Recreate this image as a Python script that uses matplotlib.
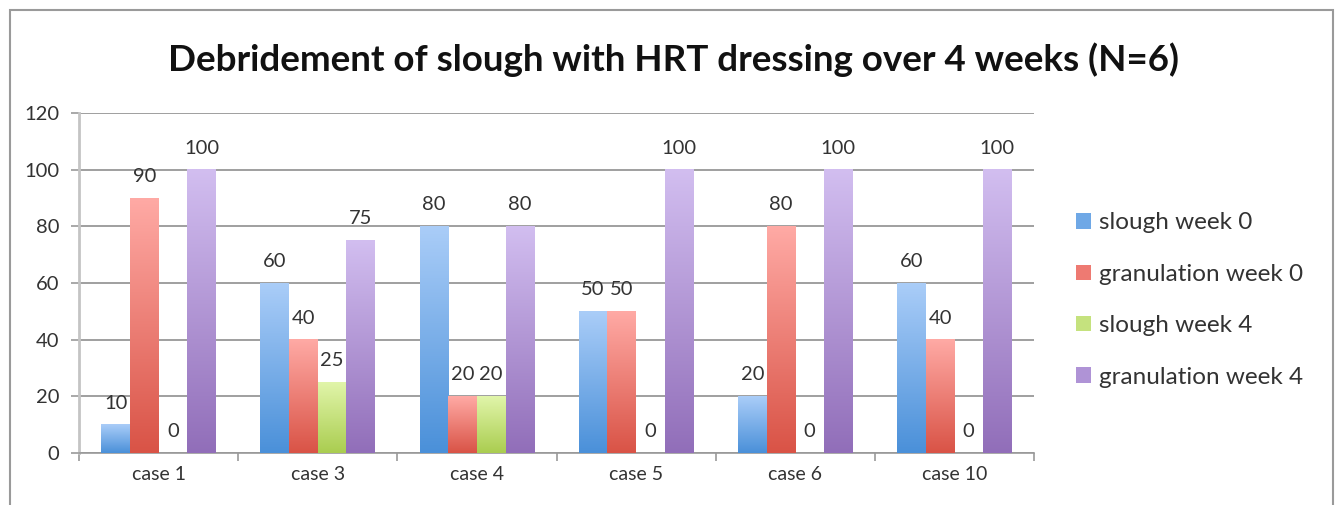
import numpy as np
import matplotlib
matplotlib.use("Agg")
import matplotlib.pyplot as plt
from matplotlib.colors import LinearSegmentedColormap
from matplotlib.patches import Rectangle

categories = ["case 1", "case 3", "case 4", "case 5", "case 6", "case 10"]
series_names = ["slough week 0", "granulation week 0", "slough week 4", "granulation week 4"]
slough_w0 = [10, 60, 80, 50, 20, 60]
gran_w0 = [90, 40, 20, 50, 80, 40]
slough_w4 = [0, 25, 20, 0, 0, 0]
gran_w4 = [100, 75, 80, 100, 100, 100]
yticks = [0, 20, 40, 60, 80, 100, 120]
title = "Debridement of slough with HRT dressing over 4 weeks (N=6)"

series = [slough_w0, gran_w0, slough_w4, gran_w4]
grad = [("#AACDF8", "#4A90D9"), ("#FFAAA5", "#D95346"),
        ("#E1F5AA", "#AACD50"), ("#D2BEF0", "#916EB9")]
legend_col = ["#6FA8E6", "#EE7A72", "#C5E27E", "#AF93D6"]

plt.rcParams['font.family'] = ['Lato', 'DejaVu Sans']

fig = plt.figure(figsize=(13.44, 5.05), dpi=100)
fig.patches.append(Rectangle((10/1344, -0.2), (1333-10)/1344, 1.2 - 10/505,
                             transform=fig.transFigure, fill=False,
                             edgecolor="#9a9a9a", linewidth=1.5))
ax = fig.add_axes([79/1344, 52/505, 955/1344, 340/505])

x = np.arange(len(categories))
w = 0.18
for i, vals in enumerate(series):
    offs = (i - 1.5) * w
    bars = ax.bar(x + offs, vals, width=w, color="none", edgecolor="none", zorder=3)
    cmap = LinearSegmentedColormap.from_list("g%d" % i, [grad[i][1], grad[i][0]])
    for b, v in zip(bars, vals):
        x0, y0 = b.get_x(), b.get_y()
        bw, bh = b.get_width(), b.get_height()
        if bh > 0:
            g = np.linspace(0, 1, 256).reshape(-1, 1)
            ax.imshow(g, cmap=cmap, origin="lower", aspect="auto",
                      extent=[x0, x0 + bw, y0, y0 + bh], zorder=3,
                      interpolation="bilinear")
        ax.text(x0 + bw / 2, v + 7.6, str(v), ha="center", va="center",
                fontsize=14.5, color="#333333", zorder=4)
    ax.bar([0], [0], color=legend_col[i], label=series_names[i])

ax.set_xlim(-0.5, len(categories) - 0.5)
ax.set_ylim(0, 120)
ax.set_yticks(yticks)
ax.set_yticklabels([str(t) for t in yticks], fontsize=14.5, color="#333333")
ax.set_xticks(x)
ax.set_xticklabels(categories, fontsize=14, color="#333333")
ax.set_xticks(np.arange(len(categories) + 1) - 0.5, minor=True)
ax.tick_params(axis="x", which="major", length=0, pad=9)
ax.tick_params(axis="x", which="minor", length=6, color="#999999", width=1.2)
ax.tick_params(axis="y", length=6, color="#999999", width=1.2, pad=8)
ax.grid(axis="y", color="#8f8f8f", linewidth=1.2, zorder=0)
ax.set_axisbelow(True)
for s in ["top", "right"]:
    ax.spines[s].set_visible(False)
ax.spines["left"].set_color("#c4c4c4")
ax.spines["left"].set_linewidth(2)
ax.spines["bottom"].set_color("#999999")
ax.spines["bottom"].set_linewidth(1.2)

fig.text(673/1344, 1 - 60/505, title, ha="center", va="center",
         fontsize=26.5, fontweight="bold", color="#111111")

leg = ax.legend(loc="center left", frameon=False,
                borderaxespad=0, borderpad=0,
                fontsize=17.5, handlelength=0.6, handleheight=0.6,
                handletextpad=0.35, labelspacing=1.25, labelcolor="#333333")
leg.set_bbox_to_anchor((1 + 42/955, 0.45), transform=ax.transAxes)

fig.savefig("out.png", dpi=100)
